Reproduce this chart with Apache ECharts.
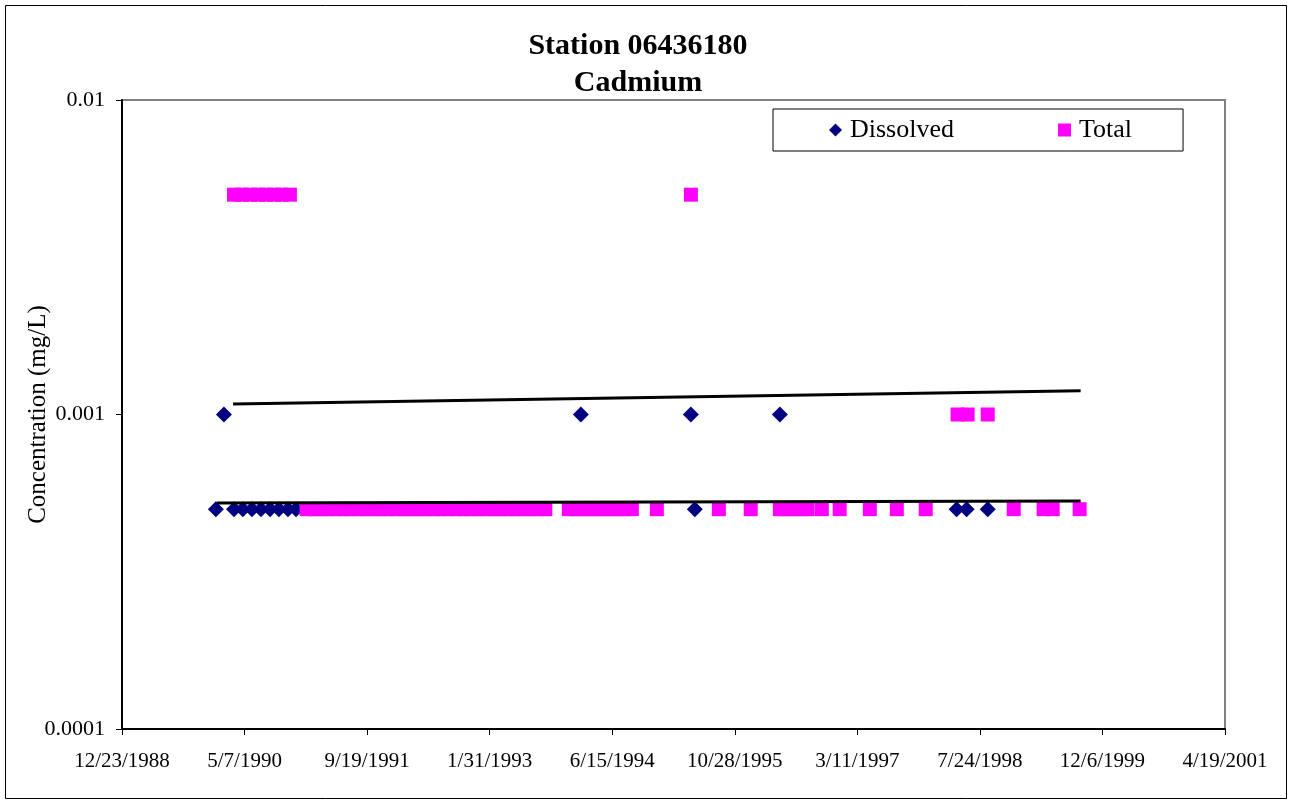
<!DOCTYPE html>
<html>
<head>
<meta charset="utf-8">
<script src="https://cdn.jsdelivr.net/npm/echarts/dist/echarts.min.js"></script>
<style>
  html, body { margin: 0; padding: 0; background: #fff; }
  #chart { width: 1291px; height: 803px; }
</style>
</head>
<body>
<div id="chart"></div>
<script>
// x ticks are Excel serial days: 32500 = 12/23/1988, step 500
const xMin = 32500, xMax = 37000, xStep = 500;
const yTicks = [0.0001, 0.001, 0.01];

const dissolvedDates = [
  '1990-01-10', '1990-02-12', '1990-03-25', '1990-04-30', '1990-06-06', '1990-07-13',
  '1990-08-19', '1990-09-24', '1990-10-31', '1990-12-03', '1994-02-07', '1995-05-02',
  '1995-05-18', '1996-04-29', '1998-04-20', '1998-05-31', '1998-08-25'
];
const dissolvedValues = [
  0.0005, 0.001, 0.0005, 0.0005, 0.0005, 0.0005,
  0.0005, 0.0005, 0.0005, 0.0005, 0.001, 0.001,
  0.0005, 0.001, 0.0005, 0.0005, 0.0005
];

// Total, 0.005 results
const totalHighDates = [
  '1990-03-25', '1990-04-26', '1990-05-29', '1990-07-01', '1990-08-02',
  '1990-09-04', '1990-10-07', '1990-11-08', '1995-05-02'
];
// Total, 0.001 results
const totalMidDates = ['1998-04-24', '1998-06-04', '1998-08-25'];
// Total, 0.0005 results
const totalLowDates = [
  '1991-01-15', '1991-02-15', '1991-03-15', '1991-04-15', '1991-05-15', '1991-06-15',
  '1991-07-15', '1991-08-15', '1991-09-15', '1991-10-15', '1991-11-15', '1991-12-15',
  '1992-01-15', '1992-02-15', '1992-03-15', '1992-04-15', '1992-05-15', '1992-06-15',
  '1992-07-15', '1992-08-15', '1992-09-15', '1992-10-15', '1992-11-15', '1992-12-15',
  '1993-01-15', '1993-02-15', '1993-03-15', '1993-04-15', '1993-05-15', '1993-06-15',
  '1993-07-15', '1993-08-15', '1993-09-15',
  '1993-12-20', '1994-01-18', '1994-02-15', '1994-03-15', '1994-04-12', '1994-05-10',
  '1994-06-08', '1994-07-06', '1994-08-04', '1994-09-03',
  '1994-12-14', '1995-08-24', '1996-01-01', '1996-04-29', '1996-05-28', '1996-06-26',
  '1996-07-25', '1996-08-20', '1996-10-17', '1996-12-29', '1997-05-01', '1997-08-19',
  '1997-12-15', '1998-12-09', '1999-04-10', '1999-05-17', '1999-09-04'
];

// trend lines (end points)
const upperTrendDates = ['1990-03-21', '1999-09-08'];
const upperTrendValues = [0.00108, 0.00119];
const lowerTrendDates = ['1990-01-14', '1999-09-08'];
const lowerTrendValues = [0.000523, 0.000531];

const FONT = '"Liberation Serif", "Times New Roman", serif';
const DAY = 864e5;
const EPOCH = Date.UTC(1899, 11, 30);

function serial(s) {
  const p = s.split('-').map(Number);
  return Math.round((Date.UTC(p[0], p[1] - 1, p[2]) - EPOCH) / DAY);
}
function fmtDate(v) {
  const d = new Date(EPOCH + v * DAY);
  return (d.getUTCMonth() + 1) + '/' + d.getUTCDate() + '/' + d.getUTCFullYear();
}
function pairs(dates, vals) {
  return dates.map((d, i) => [serial(d), Array.isArray(vals) ? vals[i] : vals]);
}

const totalData = []
  .concat(pairs(totalHighDates, 0.005))
  .concat(pairs(totalMidDates, 0.001))
  .concat(pairs(totalLowDates, 0.0005));

const chart = echarts.init(document.getElementById('chart'));
const option = {
  animation: false,
  backgroundColor: '#fff',
  title: {
    text: 'Station 06436180\nCadmium',
    left: 633,
    textAlign: 'center',
    top: 23,
    textStyle: { fontFamily: FONT, fontSize: 30, fontWeight: 'bold', color: '#000', lineHeight: 37 }
  },
  legend: {
    data: [
      { name: 'Dissolved', icon: 'diamond' },
      { name: 'Total', icon: 'rect' }
    ],
    left: 773,
    top: 109,
    padding: [8, 51, 8, 56],
    itemGap: 104,
    itemWidth: 13,
    itemHeight: 13,
    borderColor: '#000',
    borderWidth: 1,
    textStyle: { fontFamily: FONT, fontSize: 26, color: '#000', padding: [0, 0, 0, 3] }
  },
  graphic: [{
    type: 'rect',
    shape: { x: 5.5, y: 5.5, width: 1281, height: 793 },
    style: { fill: 'none', stroke: '#000', lineWidth: 1 },
    silent: true
  }],
  grid: {
    left: 122, top: 100, width: 1103, height: 629,
    show: true, borderColor: '#808080', borderWidth: 2, backgroundColor: '#fff'
  },
  xAxis: {
    type: 'value',
    min: xMin, max: xMax, interval: xStep,
    axisLine: { lineStyle: { color: '#000', width: 2 } },
    axisTick: { show: true, length: 6, lineStyle: { color: '#000' } },
    splitLine: { show: false },
    axisLabel: { formatter: fmtDate, fontFamily: FONT, fontSize: 21, color: '#000', margin: 22 }
  },
  yAxis: {
    type: 'log',
    logBase: 10,
    min: yTicks[0], max: yTicks[yTicks.length - 1],
    name: 'Concentration (mg/L)',
    nameLocation: 'middle',
    nameRotate: 90,
    nameGap: 71,
    nameMoveOverlap: false,
    nameTextStyle: { fontFamily: FONT, fontSize: 25, color: '#000' },
    axisLine: { show: true, lineStyle: { color: '#000', width: 2 } },
    axisTick: { show: true, length: 6, lineStyle: { color: '#000' } },
    splitLine: { show: false },
    minorTick: { show: false },
    axisLabel: {
      formatter: v => String(+(+v).toPrecision(1)),
      fontFamily: FONT, fontSize: 22, color: '#000', margin: 17
    }
  },
  series: [
    {
      name: 'Dissolved', type: 'scatter', symbol: 'diamond', symbolSize: 16,
      itemStyle: { color: '#000080', opacity: 1 },
      data: pairs(dissolvedDates, dissolvedValues), z: 3
    },
    {
      name: 'Total', type: 'scatter', symbol: 'rect', symbolSize: 14,
      itemStyle: { color: '#FF00FF', opacity: 1 },
      data: totalData, z: 3
    },
    {
      name: 'upper trend', type: 'line', symbol: 'none', silent: true,
      lineStyle: { color: '#000', width: 3 },
      data: pairs(upperTrendDates, upperTrendValues), z: 4
    },
    {
      name: 'lower trend', type: 'line', symbol: 'none', silent: true,
      lineStyle: { color: '#000', width: 3 },
      data: pairs(lowerTrendDates, lowerTrendValues), z: 4
    }
  ]
};
chart.setOption(option);
</script>
</body>
</html>
